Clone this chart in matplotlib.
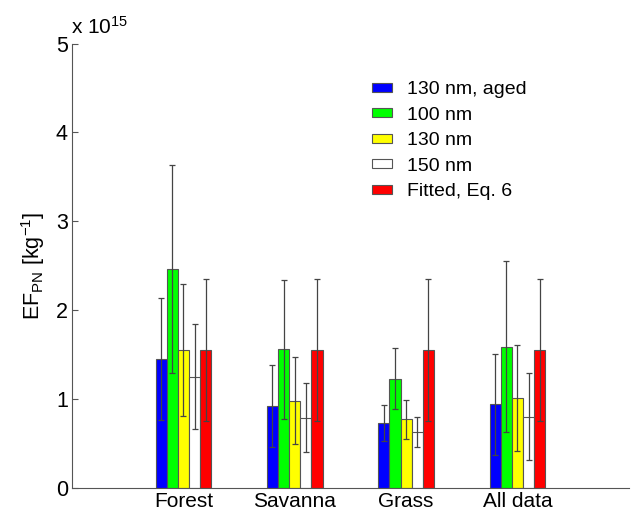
import numpy as np
import matplotlib
matplotlib.use('Agg')
import matplotlib.pyplot as plt

plt.rcParams['font.family'] = ['Liberation Sans', 'DejaVu Sans']
plt.rcParams['mathtext.fontset'] = 'custom'
plt.rcParams['mathtext.rm'] = 'Liberation Sans'
plt.rcParams['mathtext.it'] = 'Liberation Sans:italic'

# values in units of 1e15 kg^-1
categories = ['Forest', 'Savanna', 'Grass', 'All data']
series = ['130 nm, aged', '100 nm', '130 nm', '150 nm', 'Fitted, Eq. 6']
colors = ['#0000ff', '#00ff00', '#ffff00', '#ffffff', '#ff0000']

aged130 = [1.45, 0.92, 0.73, 0.94]
nm100 = [2.46, 1.56, 1.23, 1.59]
nm130 = [1.55, 0.98, 0.77, 1.01]
nm150 = [1.25, 0.79, 0.63, 0.80]
fitted = [1.55, 1.55, 1.55, 1.55]

aged130_err = [0.69, 0.46, 0.20, 0.57]
nm100_err = [1.17, 0.78, 0.34, 0.96]
nm130_err = [0.74, 0.49, 0.22, 0.60]
nm150_err = [0.59, 0.39, 0.17, 0.49]
fitted_err = [0.80, 0.80, 0.80, 0.80]

values = [aged130, nm100, nm130, nm150, fitted]
errors = [aged130_err, nm100_err, nm130_err, nm150_err, fitted_err]

fig = plt.figure(figsize=(6.32, 5.13), dpi=100)
ax = fig.add_axes([0.114, 0.049, 0.881, 0.866])

x = np.arange(1, len(categories) + 1)
width = 0.1
for i, (vals, errs) in enumerate(zip(values, errors)):
    pos = x + (i - 2) * width
    ax.bar(pos, vals, width, color=colors[i], edgecolor='#555555',
           linewidth=0.8, label=series[i], zorder=2)
    ax.errorbar(pos, vals, yerr=errs, fmt='none', ecolor='#444444',
                elinewidth=0.9, capsize=2.5, capthick=0.9, zorder=3)

ax.set_xlim(0, 5)
ax.set_ylim(0, 5)
ax.set_xticks(x)
ax.set_xticklabels(categories, fontsize=15)
ax.set_yticks(range(0, 6))
ax.tick_params(axis='y', labelsize=15.5, direction='in', length=4,
               color='#555555', pad=3)
ax.tick_params(axis='x', direction='in', length=0, pad=3)
for s in ['top', 'right']:
    ax.spines[s].set_visible(False)
for s in ['left', 'bottom']:
    ax.spines[s].set_color('#555555')

ax.set_ylabel(r'EF$_{\mathrm{PN}}$ [kg$^{-1}$]', fontsize=15.5, labelpad=6)
ax.text(-0.002, 1.012, r'x 10$^{15}$', transform=ax.transAxes, fontsize=15,
        ha='left', va='bottom')

ax.legend(loc='upper left', bbox_to_anchor=(0.588, 0.842),
          bbox_transform=fig.transFigure, frameon=False, fontsize=14,
          handlelength=1.03, handleheight=0.33, handletextpad=0.77,
          labelspacing=0.44, borderpad=0, borderaxespad=0)

fig.savefig('out.png', dpi=100)
